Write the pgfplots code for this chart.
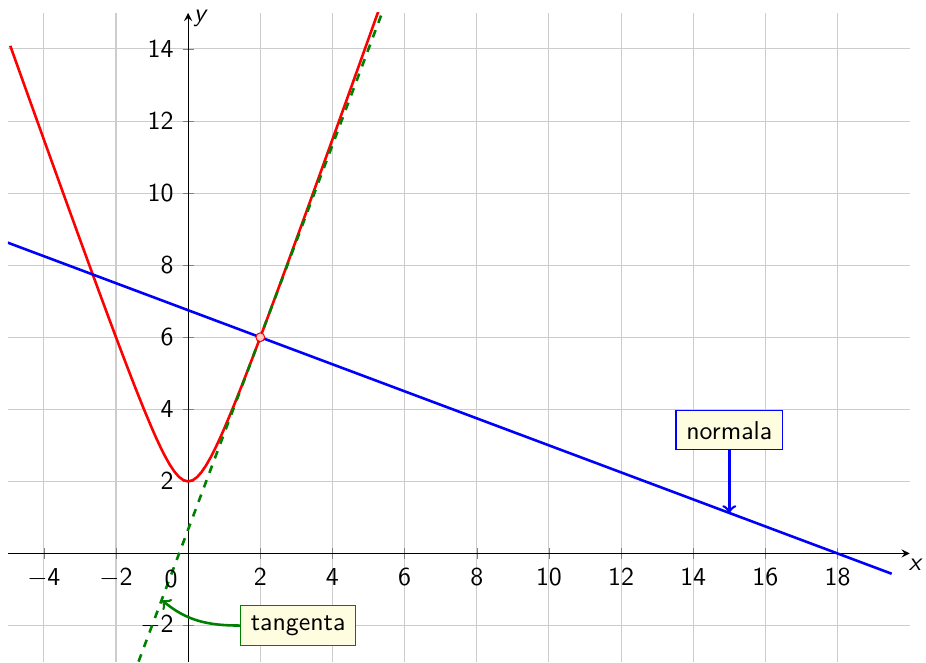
\documentclass[border=0pt]{standalone}
\usepackage{pgfplots}
\pgfplotsset{compat=1.18}
\begin{document}
\sffamily
\begin{tikzpicture}
\begin{axis}[
  scale only axis, width=349pt, height=251pt,
  axis lines=middle, axis line style={-stealth},
  xmin=-5, xmax=20, ymin=-3, ymax=15,
  xtick={-4,-2,2,4,6,8,10,12,14,16,18},
  ytick={-2,2,4,6,8,10,12,14},
  xticklabel={$\mathsf{\pgfmathprintnumber{\tick}}$},
  yticklabel={$\mathsf{\pgfmathprintnumber{\tick}}$},
  grid=major, grid style={gray!40},
  xlabel={\sffamily\itshape x}, ylabel={\sffamily\itshape y},
  xlabel style={anchor=north, at={(ticklabel* cs:1)}, inner sep=2pt, xshift=2pt},
  ylabel style={anchor=west, at={(ticklabel* cs:1)}, inner sep=2pt, yshift=-2pt},
  clip=true,
]
\addplot[red, line width=1pt] coordinates {
(-4.93,14.087) (-4.75,13.583) (-4.5,12.884) (-4.25,12.186) (-4,11.489)
(-3.75,10.794) (-3.5,10.100) (-3.25,9.407) (-3,8.718) (-2.75,8.031)
(-2.5,7.348) (-2.25,6.671) (-2,6) (-1.75,5.339) (-1.5,4.690) (-1.25,4.062)
(-1,3.464) (-0.875,3.182) (-0.75,2.915) (-0.625,2.669) (-0.5,2.449)
(-0.375,2.264) (-0.25,2.121) (-0.125,2.031) (0,2)
(0.125,2.031) (0.25,2.121) (0.375,2.264) (0.5,2.449) (0.625,2.669)
(0.75,2.915) (0.875,3.182) (1,3.464) (1.25,4.062) (1.5,4.690) (1.75,5.339)
(2,6) (2.25,6.671) (2.5,7.348) (2.75,8.031) (3,8.718) (3.25,9.407)
(3.5,10.100) (3.75,10.794) (4,11.489) (4.25,12.186) (4.5,12.884)
(4.75,13.583) (5,14.283) (5.25,14.983) (5.5,15.684)
};
\addplot[blue, line width=1pt] coordinates {(-5,8.625) (19.5,-0.5625)};
\addplot[green!50!black, line width=1pt, dashed] coordinates {(-1.375,-3) (5.5,15.333)};
\addplot[only marks, mark=*, mark size=1.7pt, mark options={draw=red, fill=red!20}] coordinates {(2,6)};
\node[anchor=center] at (axis cs:-0.47,-0.70) {$\mathsf{0}$};
\node[draw=blue, fill=yellow!12, inner sep=4pt] (nn) at (axis cs:15,3.42) {normala};
\draw[->, blue, line width=1pt] (nn.south) -- (axis cs:15,1.125);
\node[draw=green!50!black, fill=yellow!12, inner sep=4pt] (tt) at (axis cs:3.05,-2) {tangenta};
\draw[->, green!50!black, line width=1pt] (tt.west) to[out=180, in=-40] (axis cs:-0.72,-1.3);
\end{axis}
\path (current axis.west) ++(-3pt,0);
\path (current axis.north) ++(0,5pt);
\end{tikzpicture}
\end{document}
